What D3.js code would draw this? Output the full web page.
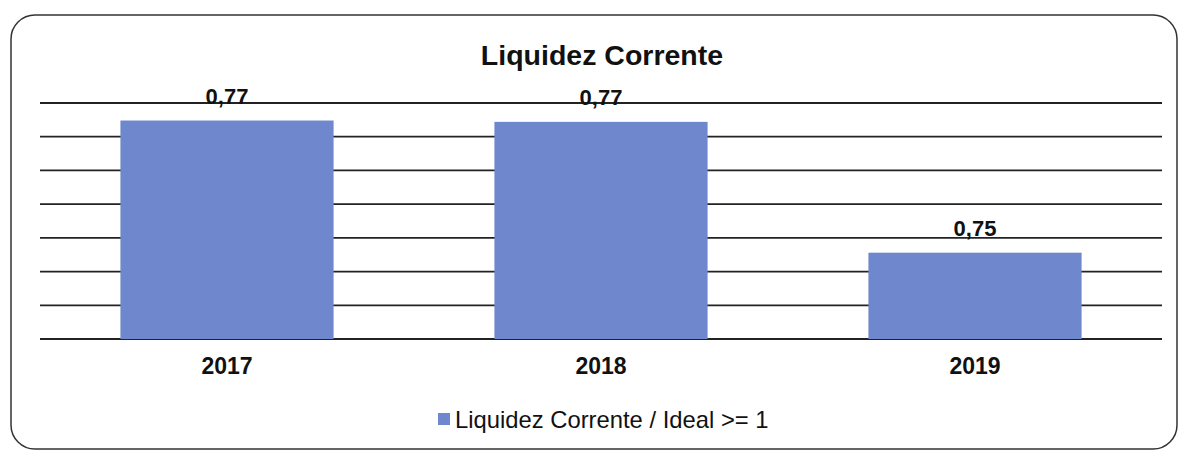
<!DOCTYPE html>
<html>
<head>
<meta charset="utf-8">
<script src="https://cdn.jsdelivr.net/npm/d3@7"></script>
<style>
  body { margin: 0; background: #fff; }
  svg { display: block; font-family: "Liberation Sans", Arial, sans-serif; }
</style>
</head>
<body>
<svg></svg>
<script>
(function (d3) {
  'use strict';

  var years = ["2017", "2018", "2019"],
      liquidez = [0.7724, 0.7722, 0.7528],
      labels = ["0,77", "0,77", "0,75"],
      gridTicks = [0.74, 0.745, 0.75, 0.755, 0.76, 0.765, 0.77, 0.775];

  var width = 1179, height = 452,
      svg = d3.select("svg").attr("width", width).attr("height", height);

  // outer frame
  svg.append("rect")
    .attr("x", 11).attr("y", 15)
    .attr("width", 1166).attr("height", 434)
    .attr("rx", 24)
    .attr("fill", "none")
    .attr("stroke", "#333")
    .attr("stroke-width", 1.5);

  var x = d3.scaleBand()
      .domain(years)
      .range([40, 1162])
      .paddingInner(0.43)
      .paddingOuter(0.215),
    y = d3.scaleLinear()
      .domain([0.74, 0.775])
      .range([339, 103]);

  // grid
  svg.append("g").selectAll("line")
    .data(gridTicks)
    .enter().append("line")
      .attr("x1", 40).attr("x2", 1162)
      .attr("y1", function (d) { return y(d); })
      .attr("y2", function (d) { return y(d); })
      .attr("stroke", "#222")
      .attr("stroke-width", 1.8);

  svg.append("text")
    .attr("x", 602).attr("y", 65)
    .attr("text-anchor", "middle")
    .attr("font-size", "28.5px")
    .attr("font-weight", "bold")
    .attr("fill", "#111")
    .text("Liquidez Corrente");

  var bars = svg.append("g").selectAll("g")
    .data(years)
    .enter().append("g");

  bars.append("rect")
    .attr("x", function (d) { return x(d); })
    .attr("width", x.bandwidth())
    .attr("y", function (d, i) { return y(liquidez[i]); })
    .attr("height", function (d, i) { return y(0.74) - y(liquidez[i]); })
    .attr("fill", "#6e87cd");

  bars.append("text")
    .attr("x", function (d) { return x(d) + x.bandwidth() / 2; })
    .attr("y", function (d, i) { return y(liquidez[i]) - 17; })
    .attr("text-anchor", "middle")
    .attr("font-size", "22px")
    .attr("font-weight", "bold")
    .attr("fill", "#111")
    .text(function (d, i) { return labels[i]; });

  bars.append("text")
    .attr("x", function (d) { return x(d) + x.bandwidth() / 2; })
    .attr("y", 374)
    .attr("text-anchor", "middle")
    .attr("font-size", "23px")
    .attr("font-weight", "bold")
    .attr("fill", "#111")
    .text(function (d) { return d; });

  // legend
  svg.append("rect")
    .attr("x", 438).attr("y", 413)
    .attr("width", 12).attr("height", 12)
    .attr("fill", "#6e87cd");

  svg.append("text")
    .attr("x", 455).attr("y", 428)
    .attr("font-size", "23.8px")
    .attr("fill", "#111")
    .text("Liquidez Corrente / Ideal >= 1");

}(d3));
</script>
</body>
</html>
